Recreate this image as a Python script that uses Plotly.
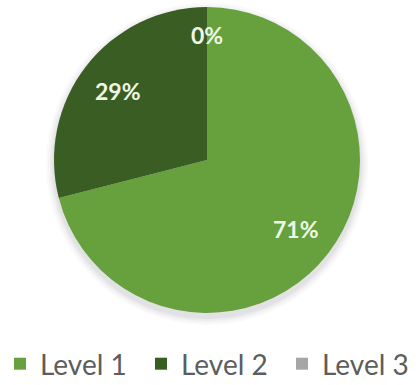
import math
import plotly.graph_objects as go

# Share of respondents per level (percent)
levels = ["Level 1", "Level 2", "Level 3"]
shares = [71, 29, 0]
slice_colors = ["#67a13d", "#3a5d23", "#a6a6a6"]

W, H = 419, 385
cx, cy, r = 207, 160, 153

fig = go.Figure(
    go.Pie(
        labels=levels,
        values=shares,
        sort=False,
        direction="clockwise",
        rotation=0,
        marker=dict(colors=slice_colors, line=dict(width=0)),
        textinfo="none",
        showlegend=True,
        domain=dict(x=[(cx - r) / W, (cx + r) / W], y=[1 - (cy + r) / H, 1 - (cy - r) / H]),
    )
)

# Soft drop shadow behind the pie
for grow, alpha in [(8, 0.025), (6, 0.035), (4, 0.045), (2, 0.06)]:
    fig.add_shape(
        type="circle", xref="paper", yref="paper", layer="below",
        x0=(cx - r - grow) / W, x1=(cx + r + grow) / W,
        y0=1 - (cy + 4 + r + grow) / H, y1=1 - (cy + 4 - r - grow) / H,
        fillcolor=f"rgba(70,60,80,{alpha})", line=dict(width=0),
    )

# Percentage labels placed at each slice's mid-angle (clockwise from 12 o'clock)
total = sum(shares)
start = 0.0
for v in shares:
    frac = v / total
    mid = (start + frac / 2) * 2 * math.pi
    rf = 0.74 if frac > 0 else 0.82
    lx = cx + rf * r * math.sin(mid)
    ly = cy - rf * r * math.cos(mid)
    fig.add_annotation(
        x=lx / W, y=1 - ly / H, xref="paper", yref="paper",
        text=f"{round(frac * 100)}%", showarrow=False,
        font=dict(family="Lato", size=23, color="#eef8e6", weight="bold"),
        xanchor="center", yanchor="middle",
    )
    start += frac

fig.update_layout(
    width=W,
    height=H,
    margin=dict(l=0, r=0, t=0, b=0, autoexpand=False),
    paper_bgcolor="white",
    plot_bgcolor="white",
    legend=dict(
        orientation="h",
        x=0.0,
        xanchor="left",
        y=1 - 364 / H,
        yanchor="middle",
        font=dict(family="Lato", size=28, color="#5d5d5d"),
        itemwidth=30,
        entrywidth=96,
        entrywidthmode="pixels",
    ),
)

fig.write_html("out.html")
